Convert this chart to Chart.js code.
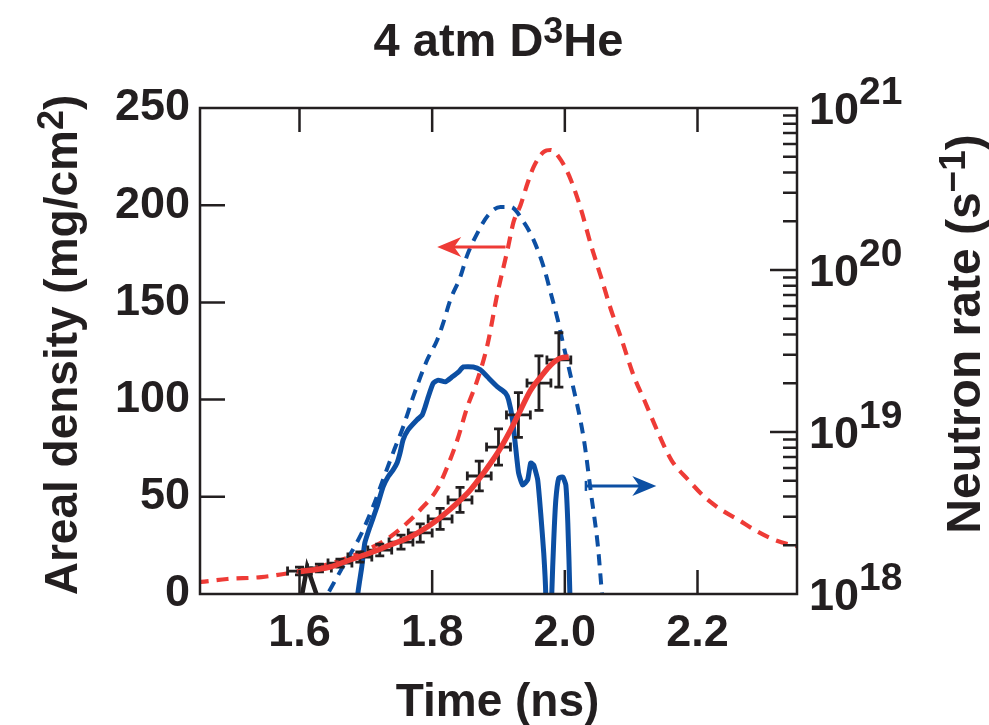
<!DOCTYPE html>
<html><head><meta charset="utf-8">
<script src="https://cdn.jsdelivr.net/npm/chart.js@4/dist/chart.umd.min.js"></script>
<style>html,body{margin:0;padding:0;background:#fff}canvas{display:block}</style>
</head><body>
<canvas id="c" width="989" height="725"></canvas>
<script>
const FONT = '"Liberation Sans", Arial, Helvetica, sans-serif';
const INK = '#231f20';
const RED = '#ee3b36';
const BLUE = '#0c4fa3';

// ---- axis ticks / labels ----
const xTickValues = [1.6, 1.8, 2.0, 2.2];
const xTickLabels = ['1.6', '1.8', '2.0', '2.2'];
const yTickValues = [0, 50, 100, 150, 200, 250];
const yTickLabels = ['0', '50', '100', '150', '200', '250'];
const rateDecadeExponents = [18, 19, 20, 21];
const rateMinorMultipliers = [2, 3, 4, 5, 6, 7, 8, 9];

// ---- simulated areal density (red dashed, mg/cm2) ----
const simRhoRTime = [1.445, 1.4515, 1.4909, 1.5424, 1.5924, 1.65, 1.7106, 1.7364, 1.7621, 1.7818, 1.8076, 1.8227, 1.8379, 1.8530, 1.8682, 1.8833, 1.8985, 1.9136, 1.9227, 1.9333, 1.9439, 1.9530, 1.9682, 1.9788, 1.9939, 2.0091, 2.0242, 2.0394, 2.0545, 2.0697, 2.0848, 2.1045, 2.1197, 2.1409, 2.1606, 2.1864, 2.2106, 2.2364, 2.2621, 2.2864, 2.3167, 2.3424, 2.35];
const simRhoR = [6.0, 6.2, 7.7, 8.7, 11.3, 16.0, 24.2, 29.3, 36.5, 43.2, 54.0, 65.3, 79.2, 96.2, 110.1, 128.1, 154.8, 177.0, 191.4, 200.1, 211.4, 219.7, 227.4, 228.4, 223.3, 213.0, 198.0, 179.5, 163.1, 146.1, 131.7, 111.6, 99.8, 82.8, 68.9, 58.6, 49.9, 43.2, 38.1, 32.9, 27.8, 25.2, 24.7];

// ---- simulated neutron rate (blue dashed, s^-1) ----
const simRateTime = [1.6303, 1.6424, 1.6652, 1.6909, 1.7106, 1.7258, 1.7409, 1.7561, 1.7712, 1.7924, 1.8076, 1.8167, 1.8273, 1.8424, 1.8530, 1.8682, 1.8848, 1.9030, 1.9182, 1.9379, 1.9530, 1.9682, 1.9788, 1.9894, 1.9985, 2.0091, 2.0288, 2.0394, 2.0500, 2.0561, 2.0591];
const simRate = [8.2e17, 1.0e18, 1.47e18, 2.25e18, 3.44e18, 5.06e18, 7.41e18, 1.07e19, 1.64e19, 2.78e19, 3.70e19, 4.71e19, 6.53e19, 9.06e19, 1.24e20, 1.69e20, 2.19e20, 2.45e20, 2.45e20, 1.98e20, 1.53e20, 1.04e20, 7.21e19, 4.91e19, 3.35e19, 2.19e19, 8.93e18, 4.20e18, 1.95e18, 1.0e18, 7.9e17];

// ---- measured neutron rate (blue solid, s^-1) ----
const measRateTime = [1.6860, 1.6879, 1.6939, 1.6985, 1.7061, 1.7167, 1.7258, 1.7333, 1.7409, 1.7470, 1.7515, 1.7561, 1.7636, 1.7773, 1.7848, 1.7894, 1.7939, 1.8015, 1.8091, 1.8197, 1.8303, 1.8394, 1.8470, 1.8621, 1.8727, 1.8833, 1.8985, 1.9106, 1.9152, 1.9212, 1.9258, 1.9303, 1.9364, 1.9439, 1.9485, 1.9530, 1.9591, 1.9636, 1.9682, 1.9712, 1.9740, 1.9775, 1.9803, 1.9833, 1.9864, 1.9909, 1.9970, 2.0015, 2.0045, 2.0076, 2.0100];
const measRate = [6.3e17, 1.0e18, 1.47e18, 2.07e18, 2.59e18, 3.44e18, 4.57e18, 5.27e18, 5.82e18, 6.44e18, 7.41e18, 8.93e18, 1.03e19, 1.19e19, 1.27e19, 1.43e19, 1.64e19, 2.00e19, 2.09e19, 2.04e19, 2.19e19, 2.34e19, 2.52e19, 2.52e19, 2.42e19, 2.19e19, 1.90e19, 1.74e19, 1.58e19, 1.19e19, 8.07e18, 5.58e18, 4.71e18, 5.06e18, 6.44e18, 6.25e18, 5.06e18, 3.16e18, 1.79e18, 1.0e18, 1e17, 1e17, 1.0e18, 2.15e18, 3.80e18, 5.20e18, 5.27e18, 4.71e18, 2.74e18, 1.0e18, 1e17];

// ---- measured areal density with error bars (black) ----
const measRhoRTime = [1.600, 1.630, 1.661, 1.691, 1.721, 1.753, 1.782, 1.812, 1.842, 1.871, 1.900, 1.930, 1.961, 1.991];
const measRhoR = [11.8, 13.4, 15.9, 19.0, 22.6, 26.7, 31.4, 38.6, 48.4, 60.7, 75.6, 92.1, 108.5, 120.4];
const measRhoRErr = [2.0, 2.0, 2.0, 2.6, 3.0, 3.6, 4.7, 5.4, 6.4, 7.7, 9.3, 11.5, 14.0, 14.0];
const measTimeErr = [0.018, 0.018, 0.018, 0.018, 0.018, 0.018, 0.018, 0.018, 0.018, 0.018, 0.018, 0.018, 0.018, 0.018];

// ---- fit to measured areal density (red solid) ----
const fitTime = [1.597, 1.6455, 1.6758, 1.7061, 1.7364, 1.7667, 1.797, 1.8167, 1.8379, 1.8576, 1.8773, 1.8985, 1.9182, 1.9333, 1.9485, 1.9636, 1.9788, 1.9939, 2.006];
const fitRhoR = [11.3, 13.9, 17.5, 21.1, 25.2, 29.3, 35.5, 40.6, 46.8, 53.5, 62.2, 72.5, 84.4, 94.7, 104.9, 111.6, 117.8, 121.4, 121.9];

// ---- small black trace near 1.61 ns ----
const blackTime = [1.6025, 1.6115, 1.6285];
const blackVal = [-3, 13.9, -3];

// ---- annotation arrows (time, areal density) ----
const redArrowTail = [1.9106, 178.5], redArrowHead = [1.8076, 178.5];
const blueArrowTail = [2.0318, 55.6], blueArrowHead = [2.1379, 55.6];

const pts = (xs, ys) => xs.map((x, i) => ({x, y: ys[i]}));

function drawParts(ctx, parts, x, y, align) {
  let w = 0;
  parts.forEach(p => { ctx.font = `bold ${p.size}px ${FONT}`; p.w = ctx.measureText(p.t).width; w += p.w; });
  let cx = align === 'center' ? x - w / 2 : (align === 'right' ? x - w : x);
  ctx.textAlign = 'left'; ctx.textBaseline = 'alphabetic';
  parts.forEach(p => { ctx.font = `bold ${p.size}px ${FONT}`; ctx.fillText(p.t, cx, y - (p.up || 0)); cx += p.w; });
}

const decor = {
  id: 'decor',
  beforeDraw(chart) {
    const ctx = chart.ctx; ctx.save(); ctx.fillStyle = '#fff'; ctx.fillRect(0, 0, chart.width, chart.height); ctx.restore();
  },
  afterDatasetDraw(chart, args) {
    if (chart.data.datasets[args.index].label !== 'measured') return;
    const ctx = chart.ctx, xs = chart.scales.x, ys = chart.scales.y;
    ctx.save(); ctx.strokeStyle = INK; ctx.lineWidth = 2.8; ctx.lineCap = 'butt';
    const cap = 4.5;
    measRhoRTime.forEach((t, i) => {
      const cx = xs.getPixelForValue(t), cy = ys.getPixelForValue(measRhoR[i]);
      const x0 = xs.getPixelForValue(t - measTimeErr[i]), x1 = xs.getPixelForValue(t + measTimeErr[i]);
      const y0 = ys.getPixelForValue(measRhoR[i] - measRhoRErr[i]), y1 = ys.getPixelForValue(measRhoR[i] + measRhoRErr[i]);
      ctx.beginPath();
      ctx.moveTo(x0, cy); ctx.lineTo(x1, cy);
      ctx.moveTo(cx, y0); ctx.lineTo(cx, y1);
      ctx.moveTo(x0, cy - cap); ctx.lineTo(x0, cy + cap);
      ctx.moveTo(x1, cy - cap); ctx.lineTo(x1, cy + cap);
      ctx.moveTo(cx - cap, y0); ctx.lineTo(cx + cap, y0);
      ctx.moveTo(cx - cap, y1); ctx.lineTo(cx + cap, y1);
      ctx.stroke();
    });
    ctx.restore();
  },
  afterDatasetsDraw(chart) {
    const ctx = chart.ctx, a = chart.chartArea, xs = chart.scales.x, ys = chart.scales.y, y2 = chart.scales.y2;
    ctx.save();
    const arrow = (tail, head, color, tailCap) => {
      const tx = xs.getPixelForValue(tail[0]), ty = ys.getPixelForValue(tail[1]);
      const hx = xs.getPixelForValue(head[0]), hy = ys.getPixelForValue(head[1]);
      const dir = Math.sign(hx - tx), L = 24, W = 10, notch = 7;
      ctx.strokeStyle = color; ctx.fillStyle = color; ctx.lineWidth = 3;
      ctx.beginPath(); ctx.moveTo(tx, ty); ctx.lineTo(hx - dir * notch, hy); ctx.stroke();
      if (tailCap) { ctx.lineWidth = 2.5; ctx.beginPath(); ctx.moveTo(tx, ty - 5); ctx.lineTo(tx, ty + 5); ctx.stroke(); }
      ctx.beginPath(); ctx.moveTo(hx, hy); ctx.lineTo(hx - dir * L, hy - W); ctx.lineTo(hx - dir * (L - notch), hy); ctx.lineTo(hx - dir * L, hy + W); ctx.closePath(); ctx.fill();
    };
    arrow(redArrowTail, redArrowHead, RED, false);
    arrow(blueArrowTail, blueArrowHead, BLUE, true);
    ctx.strokeStyle = INK; ctx.lineWidth = 2.5;
    ctx.strokeRect(a.left, a.top, a.right - a.left, a.bottom - a.top);
    ctx.beginPath();
    xs.ticks.forEach(t => {
      const px = xs.getPixelForValue(t.value);
      ctx.moveTo(px, a.top); ctx.lineTo(px, a.top + 24);
      ctx.moveTo(px, a.bottom); ctx.lineTo(px, a.bottom - 24);
    });
    ys.ticks.forEach(t => {
      if (t.value <= ys.min || t.value >= ys.max) return;
      const py = ys.getPixelForValue(t.value);
      ctx.moveTo(a.left, py); ctx.lineTo(a.left + 25, py);
    });
    y2.ticks.forEach(t => {
      if (t.value <= y2.min || t.value >= y2.max) return;
      const py = y2.getPixelForValue(t.value);
      ctx.moveTo(a.right, py); ctx.lineTo(a.right - (t.major ? 27 : 14), py);
    });
    ctx.stroke();
    ctx.restore();
  },
  afterDraw(chart) {
    const ctx = chart.ctx, a = chart.chartArea, y2 = chart.scales.y2;
    ctx.save(); ctx.fillStyle = INK;
    drawParts(ctx, [{t: '4 atm D', size: 47}, {t: '3', size: 36, up: 13}, {t: 'He', size: 47}], (a.left + a.right) / 2, 56, 'center');
    drawParts(ctx, [{t: 'Time (ns)', size: 46}], (a.left + a.right) / 2 - 1, 716, 'center');
    y2.ticks.forEach(t => {
      if (!t.major) return;
      const py = y2.getPixelForValue(t.value);
      drawParts(ctx, [{t: '10', size: 45}, {t: String(t.exp), size: 39, up: 20}], a.right + 12, py + 16, 'left');
    });
    ctx.save(); ctx.translate(77, (a.top + a.bottom) / 2 - 6); ctx.rotate(-Math.PI / 2);
    drawParts(ctx, [{t: 'Areal density (mg/cm', size: 46}, {t: '2', size: 36, up: 14}, {t: ')', size: 46}], 0, 0, 'center');
    ctx.restore();
    ctx.save(); ctx.translate(980, 334); ctx.rotate(-Math.PI / 2);
    drawParts(ctx, [{t: 'Neutron rate (s', size: 48}, {t: '\u22121', size: 37, up: 15}, {t: ')', size: 48}], 0, 0, 'center');
    ctx.restore();
    ctx.restore();
  }
};

const line = (label, data, color, width, dash, axis, extra) => Object.assign({
  label, data, borderColor: color, backgroundColor: color, borderWidth: width, borderDash: dash,
  pointRadius: 0, fill: false, yAxisID: axis, clip: 0, cubicInterpolationMode: 'monotone'
}, extra || {});

new Chart(document.getElementById('c'), {
  type: 'line',
  data: {
    datasets: [
      line('fit', pts(fitTime, fitRhoR), RED, 5.5, [], 'y'),
      line('black', pts(blackTime, blackVal), INK, 4.5, [], 'y', {cubicInterpolationMode: 'default', tension: 0}),
      line('measured', pts(measRhoRTime, measRhoR), INK, 0, [], 'y', {showLine: false}),
      line('rate', pts(measRateTime, measRate), BLUE, 5, [], 'y2', {cubicInterpolationMode: 'default', tension: 0.15}),
      line('simRhoR', pts(simRhoRTime, simRhoR), RED, 4.2, [12, 8], 'y'),
      line('simRate', pts(simRateTime, simRate), BLUE, 4, [11, 8], 'y2')
    ]
  },
  options: {
    responsive: false, devicePixelRatio: 1, animation: false,
    layout: {padding: {top: 108, left: 0, right: 0, bottom: 0}},
    plugins: {legend: {display: false}, title: {display: false}, tooltip: {enabled: false}},
    scales: {
      x: {
        type: 'linear', position: 'bottom', min: 1.45, max: 2.35,
        afterBuildTicks: s => { s.ticks = xTickValues.map(v => ({value: v})); },
        ticks: {callback: (v, i) => xTickLabels[i], color: INK, font: {family: FONT, size: 45, weight: 'bold'}, padding: 13, maxRotation: 0, autoSkip: false},
        grid: {display: false, drawTicks: false}, border: {display: false},
        afterFit: s => { s.height = 131; }
      },
      y: {
        type: 'linear', position: 'left', min: 0, max: 250,
        afterBuildTicks: s => { s.ticks = yTickValues.map(v => ({value: v})); },
        ticks: {callback: (v, i) => yTickLabels[i], color: INK, font: {family: FONT, size: 45, weight: 'bold'}, padding: 10, autoSkip: false},
        grid: {display: false, drawTicks: false}, border: {display: false},
        afterFit: s => { s.width = 200; }
      },
      y2: {
        type: 'logarithmic', position: 'right', min: 1e18, max: 1e21,
        afterBuildTicks: s => {
          const t = [];
          rateDecadeExponents.forEach((e, k) => {
            t.push({value: Math.pow(10, e), major: true, exp: e});
            if (k < rateDecadeExponents.length - 1) rateMinorMultipliers.forEach(m => t.push({value: m * Math.pow(10, e), major: false}));
          });
          s.ticks = t;
        },
        ticks: {display: false},
        grid: {display: false, drawTicks: false}, border: {display: false},
        afterFit: s => { s.width = 192; }
      }
    }
  },
  plugins: [decor]
});
</script>
</body></html>
